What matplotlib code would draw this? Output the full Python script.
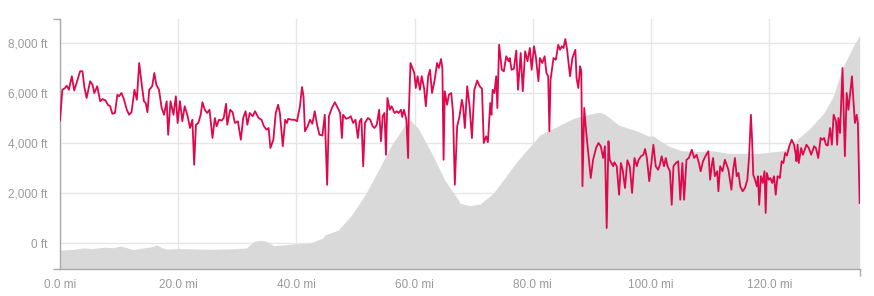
import matplotlib
matplotlib.use("Agg")
import matplotlib.pyplot as plt
from matplotlib.ticker import FuncFormatter, FixedLocator

# elevation profile (grey area), miles / feet
elev_mi = [0.0, 2.0, 3.9, 5.5, 7.5, 9.0, 10.2, 11.0, 12.4, 14.0, 15.5, 16.4, 17.2, 18.0,
           20.0, 23.0, 26.0, 29.3, 31.5, 32.2, 32.8, 33.6, 34.6, 35.4, 36.1, 39.5, 42.3,
           44.5, 44.8, 47.1,
           49.35, 51.6, 53.9, 56.1, 58.4, 59.2, 60.6, 62.9, 65.1, 67.4, 67.7, 69.4, 71.1,
           73.3, 75.0, 77.3, 79.5, 81.2, 83.5, 85.2, 86.9, 89.1, 90.5, 91.4, 92.2, 93.1,
           94.5, 96.2, 97.9, 99.5, 100.4, 101.8, 103.2, 105.2, 107.4, 110.3, 113.1, 118.4,
           122.4, 124.6, 126.9, 129.2, 130.8, 132.5, 134.2, 135.3]
elev_ft = [-280, -260, -200, -220, -170, -190, -120, -170, -260, -200, -150, -80, -180, -240,
           -220, -240, -250, -230, -200, -60, 60, 100, 90, 20, -110, -40, 0,
           200, 320, 520,
           1120, 1920, 2920, 3920, 4720, 4920, 4587, 3587, 2520, 1720, 1587, 1493, 1560,
           1987, 2520, 3253, 3853, 4320, 4587, 4787, 4987, 5120, 5200, 5230, 5150, 4987,
           4720, 4587, 4453, 4280, 4280, 4053, 3853, 3693, 3653, 3693, 3587, 3587,
           3693, 4120, 4587, 5187, 5853, 7053, 7853, 8320]

# red series, miles / feet
line_mi = [0.0, 0.4, 0.85, 1.13, 1.5, 2.0, 2.4, 2.8, 3.4, 3.8, 4.1, 4.5, 5.1, 5.5, 5.8, 6.3,
           6.8, 7.2, 7.7, 8.1, 8.5, 8.85, 9.3, 9.7, 10.0, 10.4, 10.8, 11.3, 11.7, 12.1, 12.6,
           13.0, 13.4, 13.8, 14.2, 14.5, 14.8, 15.1, 15.6, 15.96, 16.3, 16.75, 17.2, 17.6,
           18.05, 18.3, 18.7, 19.2, 19.6, 19.9, 20.3, 20.7, 21.1, 21.6, 22.0, 22.4, 22.7,
           23.0, 23.4, 23.8, 24.1, 24.5, 24.9, 25.3, 25.8, 26.2, 26.5, 26.9, 27.35, 27.7,
           28.1, 28.3, 28.8, 29.2, 29.6, 30.1, 30.6, 31.0, 31.4, 31.7, 32.1, 32.6, 33.0,
           33.6, 34.1, 34.5, 34.96, 35.3, 35.6, 36.1, 36.5, 36.9, 37.2, 37.7, 38.1, 38.4,
           38.6, 39.2, 39.7, 40.1, 40.6, 40.95, 41.2, 41.45, 41.9, 42.3, 42.7, 43.1, 43.5,
           43.9, 44.4, 44.8, 45.2, 45.5, 46.0, 46.5, 47.0, 47.4, 47.7, 47.9, 48.4, 48.8,
           49.2, 49.6, 50.0, 50.4, 50.7, 51.0, 51.3, 51.6, 52.1, 52.5, 52.9, 53.2, 53.6,
           54.0, 54.3, 54.6, 54.9, 55.15, 55.4, 55.8, 56.1, 56.6, 57.0, 57.3, 57.7, 57.9,
           58.2, 58.6, 58.9, 59.0, 59.3, 59.95, 60.2, 60.5, 60.9, 61.2, 61.6, 61.9, 62.3,
           62.6, 62.95, 63.4, 63.8, 64.1, 64.47, 64.7, 64.9, 65.1, 65.5, 65.8, 66.2, 66.5,
           66.8, 67.2, 67.6, 68.0, 68.2, 68.5, 68.9, 69.3, 69.7, 70.1, 70.6, 71.0, 71.4,
           71.7, 72.1, 72.4, 72.8, 73.0, 73.2, 73.5, 73.8, 74.0, 74.3, 74.75, 75.1, 75.5,
           75.9, 76.1, 76.4, 76.8, 77.2, 77.5, 77.95, 78.3, 78.7, 79.1, 79.5, 79.8, 80.2,
           80.5, 80.95, 81.2, 81.6, 82.0, 82.3, 82.6, 82.8, 83.0, 83.5, 83.9, 84.3, 84.6,
           84.9, 85.2, 85.5, 85.8, 86.3, 86.7, 87.2, 87.4, 87.7, 88.0, 88.2, 88.4, 88.7,
           89.0, 89.3, 89.8, 90.2, 90.7, 91.1, 91.5, 91.9, 92.2, 92.5, 92.8, 93.0, 93.3,
           93.6, 93.8, 94.2, 94.6, 94.9, 95.2, 95.6, 96.0, 96.4, 96.8, 97.2, 97.6, 97.9,
           98.3, 98.7, 98.99, 99.3, 99.7, 100.0, 100.4, 100.8, 101.2, 101.5, 101.8, 102.2,
           102.5, 102.8, 103.2, 103.5, 103.8, 104.2, 104.6, 104.95, 105.3, 105.6, 106.0,
           106.4, 106.9, 107.3, 107.7, 108.1, 108.4, 108.8, 109.2, 109.7, 110.0, 110.3,
           110.5, 110.8, 111.2, 111.4, 111.7, 112.1, 112.5, 113.1, 113.6, 113.9, 114.2,
           114.5, 114.8, 115.1, 115.5, 115.9, 116.3, 116.6, 116.9, 117.1, 117.3, 117.6,
           117.9, 118.1, 118.3, 118.6, 118.9, 119.2, 119.4, 119.6, 119.9, 120.2, 120.5,
           120.8, 121.1, 121.4, 121.8, 122.1, 122.4, 122.7, 123.0, 123.4, 123.8, 124.2,
           124.5, 124.6, 124.8, 125.0, 125.4, 125.7, 126.3, 126.7, 127.1, 127.6, 127.9,
           128.3, 128.7, 129.0, 129.3, 129.6, 129.9, 130.3, 130.6, 130.9, 131.3, 131.5,
           131.7, 131.98, 132.4, 132.8, 133.1, 133.4, 133.7, 134.0, 134.2, 134.5, 134.8,
           135.0, 135.3]
line_ft = [4900, 6130, 6200, 6290, 6130, 6670, 6100, 6400, 6870, 6870, 6270, 5800, 6470, 6330, 6000, 6270,
           5670, 5760, 5700, 5530, 5470, 5170, 5200, 5930, 5870, 6000, 5760, 5330, 5130, 5230, 6130,
           5730, 7200, 6400, 5670, 5600, 5230, 6130, 6270, 6800, 6330, 6130, 5400, 5130,
           5670, 4330, 5670, 5130, 5870, 4800, 5670, 4870, 5470, 5070, 4600, 4930, 3130,
           4730, 4800, 5130, 5630, 5330, 5200, 5330, 4200, 5000, 4670, 4930, 4900, 5000,
           5570, 4730, 5330, 5230, 4800, 4870, 4130, 5000, 5270, 4730, 5200, 5070, 5270,
           5000, 4930, 4670, 4530, 4600, 3800, 4130, 5200, 5530, 5200, 3870, 4930, 4800,
           4970, 4930, 4930, 4870, 5470, 6240, 5870, 4470, 4670, 4930, 4770, 5270, 4730,
           4330, 4300, 5130, 2330, 5070, 5400, 5630, 5400, 5200, 4200, 5130, 4970, 5000,
           5070, 4800, 4930, 4200, 4870, 4970, 3070, 4800, 5000, 4930, 4670, 4600, 4730,
           5330, 4070, 5070, 5200, 3530, 5800, 5330, 5470, 5200, 5270, 5200, 5330, 5040,
           5330, 4930, 3400, 5070, 7200, 6800, 6200, 6670, 6130, 6670, 6200, 5470, 6670,
           6930, 6000, 6530, 7200, 7000, 7360, 7000, 3330, 6070, 5530, 5930, 6000, 5200,
           2330, 4670, 5070, 5730, 5470, 4600, 6270, 5470, 4200, 6130, 6500, 6270, 6170,
           4000, 4270, 4030, 5600, 5130, 6130, 6000, 6670, 5400, 7930, 6930, 6870, 7470,
           7270, 7400, 6930, 6970, 7700, 6130, 7600, 6070, 7670, 7270, 7800, 6930, 7870,
           7470, 6470, 7400, 7200, 7470, 6800, 6670, 4470, 6530, 7400, 7330, 7930, 7730,
           7870, 7800, 8160, 7730, 6670, 7400, 7730, 6600, 6200, 7070, 6870, 2270, 5400,
           4530, 3800, 2600, 3330, 3800, 4000, 3870, 3400, 3870, 600, 4070, 3330, 3200,
           3070, 3230, 3070, 1930, 3200, 2930, 2200, 3310, 3070, 2000, 3400, 3070, 3330,
           3470, 3530, 3760, 3400, 2470, 3070, 3930, 3070, 2930, 3130, 3470, 3070,
           3400, 3070, 2870, 1530, 3070, 3200, 3270, 1730, 3200, 1730, 3330,
           3400, 3730, 3400, 3530, 3200, 2870, 3270, 3470, 3670, 2530, 3130,
           3400, 2670, 2870, 2070, 3070, 2870, 3330, 2930, 2130, 2930, 3400,
           2670, 2800, 2270, 2070, 2200, 2530, 3470, 5130, 4130, 2730, 2530,
           2270, 2670, 1530, 2670, 2400, 2870, 1200, 2800, 2530, 2600, 2400,
           2670, 1930, 2670, 2600, 3270, 3200, 3600, 3500, 3870, 4130, 3930,
           3530, 3270, 3930, 3200, 3800, 3530, 3930, 3800, 3530, 3870, 3800,
           3400, 4200, 4130, 4200, 3930, 3900, 4600, 3930, 5130, 4870, 3930,
           5000, 4400, 7000, 3470, 6000, 5330, 6000, 6670, 5870, 4800, 5130,
           4800, 1600]

x_ticks = [0, 20, 40, 60, 80, 100, 120]
y_ticks = [0, 2000, 4000, 6000, 8000]

x_max = 135.36
y_min, y_max = -1040, 8960

fig = plt.figure(figsize=(8.74, 2.96), dpi=100)
ax = fig.add_axes([60 / 874, 27 / 296, 800 / 874, 250 / 296])

ax.fill_between(elev_mi, elev_ft, y_min, color="#d9d9d9", linewidth=0, zorder=1)
ax.plot(line_mi, line_ft, color="#e0084c", linewidth=1.3, zorder=3)

ax.set_xlim(0, x_max)
ax.set_ylim(y_min, y_max)

ax.set_xticks(x_ticks)
ax.set_yticks(y_ticks)
ax.xaxis.set_major_formatter(FuncFormatter(lambda v, p: f"{v:.1f} mi"))
ax.yaxis.set_major_formatter(FuncFormatter(lambda v, p: f"{v:,.0f} ft"))
ax.grid(True, color="#e6e6e6", linewidth=1, zorder=0)
ax.set_axisbelow(True)

# outer ticks at the ends of the axes
ax.xaxis.set_minor_locator(FixedLocator([0, x_max]))
ax.yaxis.set_minor_locator(FixedLocator([y_min, y_max]))
ax.tick_params(which="major", length=0, labelsize=8.5, labelcolor="#999999")
ax.tick_params(axis="y", which="major", pad=9)
ax.tick_params(axis="x", which="major", pad=7)
ax.tick_params(which="minor", length=5, color="#aaaaaa", width=1)

for side in ["top", "right"]:
    ax.spines[side].set_visible(False)
for side in ["left", "bottom"]:
    ax.spines[side].set_color("#aaaaaa")
    ax.spines[side].set_linewidth(1)

for lab in ax.get_xticklabels() + ax.get_yticklabels():
    lab.set_fontfamily("Liberation Sans")

fig.savefig("out.png", dpi=100)
